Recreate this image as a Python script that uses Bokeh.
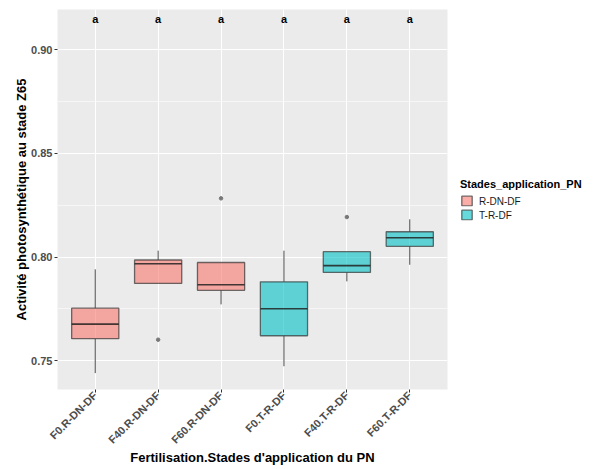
import math
from bokeh.plotting import figure
from bokeh.models import ColumnDataSource, Legend, LegendItem, FixedTicker, Range1d
from bokeh.core.properties import value
from bokeh.embed import file_html
from bokeh.resources import INLINE

categories = ["F0.R-DN-DF", "F40.R-DN-DF", "F60.R-DN-DF", "F0.T-R-DF", "F40.T-R-DF", "F60.T-R-DF"]
groups = ["R-DN-DF", "R-DN-DF", "R-DN-DF", "T-R-DF", "T-R-DF", "T-R-DF"]
whisk_low = [0.7441, 0.7873, 0.7772, 0.7474, 0.7883, 0.7963]
q1 = [0.7607, 0.7873, 0.7840, 0.7621, 0.7926, 0.8052]
median = [0.7677, 0.7968, 0.7867, 0.7751, 0.7959, 0.8093]
q3 = [0.7754, 0.7986, 0.7974, 0.7881, 0.8026, 0.8122]
whisk_high = [0.7941, 0.8031, 0.7974, 0.8031, 0.8026, 0.8182]
outlier_cat = ["F40.R-DN-DF", "F60.R-DN-DF", "F40.T-R-DF"]
outlier_val = [0.7602, 0.8283, 0.8193]
letters = ["a", "a", "a", "a", "a", "a"]
letter_y = 0.9145
y_ticks = [0.75, 0.80, 0.85, 0.90]
y_minor = [0.725, 0.775, 0.825, 0.875]
group_names = ["R-DN-DF", "T-R-DF"]
group_colors = {"R-DN-DF": "#F8766D", "T-R-DF": "#00BFC4"}

FONT = "Liberation Sans"
BW = 0.75

xs = [categories.index(c) + 1 for c in categories]

p = figure(frame_width=390, frame_height=380, x_range=Range1d(0.4, 6.6), y_range=Range1d(0.7362, 0.9193),
           output_backend="svg", toolbar_location=None,
           min_border_left=57, min_border_right=10, min_border_top=9, min_border_bottom=80,
           background_fill_color="#EBEBEB", border_fill_color="white", outline_line_color=None)

# grid
p.xgrid.ticker = FixedTicker(ticks=xs)
p.xgrid.grid_line_color = "white"
p.xgrid.grid_line_width = 1.1
p.ygrid.ticker = FixedTicker(ticks=y_ticks, minor_ticks=y_minor)
p.ygrid.grid_line_color = "white"
p.ygrid.grid_line_width = 1.1
p.ygrid.minor_grid_line_color = "white"
p.ygrid.minor_grid_line_width = 0.55

# axes
p.xaxis.ticker = FixedTicker(ticks=xs)
p.xaxis.major_label_overrides = {x: c for x, c in zip(xs, categories)}
p.xaxis.major_label_orientation = math.pi / 4
p.yaxis.ticker = FixedTicker(ticks=y_ticks, minor_ticks=[])
p.yaxis.major_label_overrides = {t: f"{t:.2f}" for t in y_ticks}
for ax in (p.xaxis, p.yaxis):
    ax.axis_line_color = None
    ax.major_tick_in = 0
    ax.major_tick_out = 3
    ax.major_tick_line_color = "#333333"
    ax.minor_tick_line_color = None
    ax.major_label_text_font = FONT
    ax.major_label_text_font_style = "bold"
    ax.major_label_text_font_size = "11px"
    ax.major_label_text_color = "#4D4D4D"
    ax.major_label_standoff = 2
    ax.axis_label_text_font = FONT
    ax.axis_label_text_font_style = "bold"
    ax.axis_label_text_font_size = "13px"
    ax.axis_label_text_color = "black"
p.xaxis.axis_label = "Fertilisation.Stades d'application du PN"
p.yaxis.axis_label = "Activité photosynthétique au stade Z65"
p.xaxis.major_label_standoff = 1
p.xaxis.axis_label_standoff = -3
p.yaxis.axis_label_standoff = -1

renderers = {}
for g in group_names:
    idx = [i for i, gg in enumerate(groups) if gg == g]
    src = ColumnDataSource(dict(
        x=[xs[i] for i in idx], lo=[whisk_low[i] for i in idx], q1=[q1[i] for i in idx],
        med=[median[i] for i in idx], q3=[q3[i] for i in idx], hi=[whisk_high[i] for i in idx],
        x0=[xs[i] - BW / 2 for i in idx], x1=[xs[i] + BW / 2 for i in idx]))
    p.segment(x0="x", x1="x", y0="q3", y1="hi", source=src, line_color="#4D4D4D", line_width=1)
    p.segment(x0="x", x1="x", y0="lo", y1="q1", source=src, line_color="#4D4D4D", line_width=1)
    r = p.vbar(x="x", width=BW, top="q3", bottom="q1", source=src,
               fill_color=group_colors[g], fill_alpha=0.6,
               line_color="#333333", line_alpha=0.7, line_width=1.3)
    p.segment(x0="x0", x1="x1", y0="med", y1="med", source=src,
              line_color="#222222", line_alpha=0.85, line_width=1.6)
    renderers[g] = r

osrc = ColumnDataSource(dict(x=[categories.index(c) + 1 for c in outlier_cat], y=outlier_val))
p.scatter(x="x", y="y", source=osrc, size=3.5, fill_color="#777777", line_color="#777777")

tsrc = ColumnDataSource(dict(x=xs, y=[letter_y] * len(xs), t=letters))
p.text(x="x", y="y", text="t", source=tsrc, text_align="center", text_baseline="middle",
       text_font=value(FONT), text_font_style="bold", text_font_size="11px", text_color="black")

legend = Legend(items=[LegendItem(label=g, renderers=[renderers[g]]) for g in group_names],
                title="Stades_application_PN", location="center_left")
legend.title_text_font = FONT
legend.title_text_font_style = "bold"
legend.title_text_font_size = "11px"
legend.title_text_color = "black"
legend.title_standoff = 5
legend.label_text_font = FONT
legend.label_text_font_size = "10px"
legend.label_text_color = "#1A1A1A"
legend.glyph_width = 13
legend.glyph_height = 12
legend.label_height = 12
legend.label_standoff = 6
legend.spacing = 2
legend.padding = 0
legend.margin = 13
legend.border_line_color = None
legend.background_fill_alpha = 0
p.add_layout(legend, "right")

open("out.html", "w").write(file_html(p, INLINE))
